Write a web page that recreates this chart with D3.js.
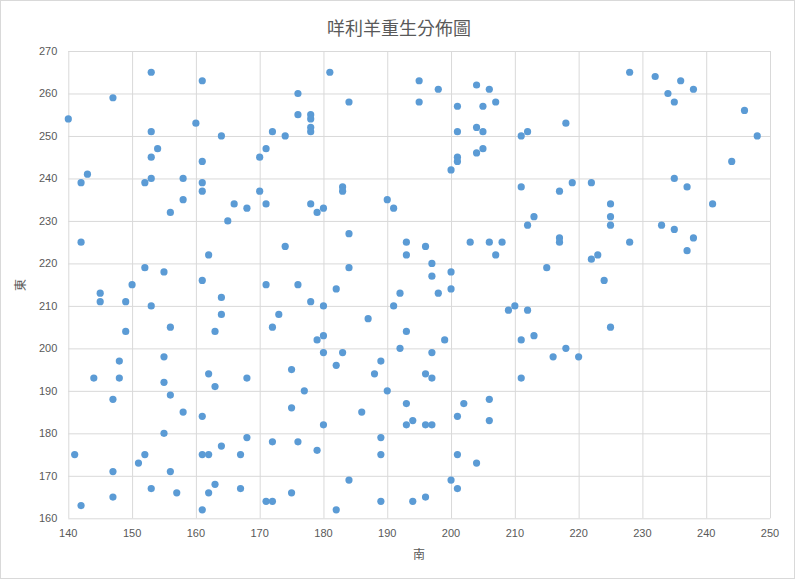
<!DOCTYPE html>
<html>
<head>
<meta charset="utf-8">
<title>咩利羊重生分佈圖</title>
<style>
    body { margin: 0; background: #fff; }
    .grid line { stroke: #d9d9d9; stroke-width: 1; }
    .grid path { display: none; }
    .tick-label { font-family: "Liberation Sans", Arial, sans-serif; font-size: 11px; fill: #595959; }
    .title { font-family: "Noto Sans CJK TC", sans-serif; font-size: 18px; fill: #595959; }
    .axis-title { font-family: "Noto Sans CJK TC", sans-serif; font-size: 12px; fill: #595959; }
</style>
<script src="https://d3js.org/d3.v7.min.js"></script>
</head>
<body>
<div id="chart"></div>
<script>
// 南 (x) values
var south = [
    153,161,147,140,160,153,164,154,153,161,143,142,152,153,158,161,161,158,166,156,165,142,162,152,155,161,150,
    181,176,184,195,195,176,178,178,178,178,172,174,171,170,170,168,171,178,179,180,183,183,190,191,184,174,193,193,184,171,176,
    198,204,206,201,205,207,218,201,204,205,211,212,201,201,200,204,205,211,217,219,222,213,212,217,217,196,203,206,208,207,197,197,200,215,222,
    228,232,236,238,234,235,246,248,244,235,237,241,225,225,225,233,235,238,237,228,223,224,
    145,145,149,153,164,164,149,156,163,155,148,144,148,155,162,163,147,156,158,161,155,141,152,151,147,156,161,162,164,167,153,157,163,162,167,147,142,161,
    182,178,180,192,191,173,172,187,193,180,179,180,183,182,192,189,188,168,175,177,190,193,175,186,180,193,194,168,172,176,179,189,189,184,175,171,172,182,189,194,
    198,200,209,210,212,199,211,213,197,216,218,220,196,197,211,202,206,201,206,196,197,201,204,200,201,196,
    225
];
// 東 (y) values
var east = [
    265,263,259,254,253,251,250,247,245,244,241,239,239,240,240,239,237,235,234,232,230,225,222,219,218,216,215,
    265,260,258,263,258,255,255,254,252,251,251,250,247,245,237,233,234,234,232,233,238,237,235,233,227,224,225,222,219,215,215,
    261,262,261,257,257,258,253,251,252,251,250,251,245,244,242,246,247,238,237,239,239,231,229,226,225,224,225,225,225,222,220,217,218,219,221,
    265,264,263,261,260,258,256,250,244,240,238,234,234,231,229,229,228,226,223,225,222,216,
    213,211,211,210,212,208,204,205,204,198,197,193,193,192,194,191,188,189,185,184,180,175,175,173,171,171,175,175,177,175,167,166,168,166,167,165,163,162,
    214,211,210,213,210,208,205,207,204,203,202,199,199,196,200,197,194,193,195,190,190,187,186,185,182,182,183,179,178,178,176,179,175,169,166,164,164,162,164,164,
    213,214,209,210,209,202,202,203,199,198,200,198,194,193,193,187,188,184,183,182,182,175,173,169,167,165,
    205
];
var xTicks = [140, 150, 160, 170, 180, 190, 200, 210, 220, 230, 240, 250];
var yTicks = [160, 170, 180, 190, 200, 210, 220, 230, 240, 250, 260, 270];
var titleText = "咩利羊重生分佈圖";
var xLabel = "南";
var yLabel = "東";

var W = 795, H = 579;
var plotLeft = 68.3, plotRight = 770, plotTop = 51, plotBottom = 518.3;

var data = south.map(function(s, i) { return { x: s, y: east[i] }; });

var svg = d3.select("#chart").append("svg")
    .attr("width", W)
    .attr("height", H);

svg.append("rect")
    .attr("x", 0.5).attr("y", 0.5)
    .attr("width", W - 1).attr("height", H - 1)
    .attr("fill", "#fff")
    .attr("stroke", "#d9d9d9");

var x = d3.scaleLinear().domain([140, 250]).range([plotLeft, plotRight]);
var y = d3.scaleLinear().domain([160, 270]).range([plotBottom, plotTop]);

// gridlines
svg.append("g")
    .attr("class", "grid")
    .attr("transform", "translate(0," + plotBottom + ")")
    .call(d3.axisBottom(x).tickValues(xTicks).tickSize(-(plotBottom - plotTop)).tickFormat(""));

svg.append("g")
    .attr("class", "grid")
    .attr("transform", "translate(" + plotLeft + ",0)")
    .call(d3.axisLeft(y).tickValues(yTicks).tickSize(-(plotRight - plotLeft)).tickFormat(""));

// tick labels
svg.append("g").selectAll("text")
    .data(xTicks)
    .enter().append("text")
    .attr("class", "tick-label")
    .attr("x", function(d) { return x(d); })
    .attr("y", plotBottom + 19)
    .attr("text-anchor", "middle")
    .text(function(d) { return d; });

svg.append("g").selectAll("text")
    .data(yTicks)
    .enter().append("text")
    .attr("class", "tick-label")
    .attr("x", plotLeft - 11)
    .attr("y", function(d) { return y(d) + 4; })
    .attr("text-anchor", "end")
    .text(function(d) { return d; });

// points
svg.append("g").selectAll("circle")
    .data(data)
    .enter().append("circle")
    .attr("cx", function(d) { return x(d.x); })
    .attr("cy", function(d) { return y(d.y); })
    .attr("r", 3.6)
    .attr("fill", "#5b9bd5");

svg.append("text")
    .attr("class", "title")
    .attr("x", 399)
    .attr("y", 35)
    .attr("text-anchor", "middle")
    .text(titleText);

svg.append("text")
    .attr("class", "axis-title")
    .attr("x", 419)
    .attr("y", 559)
    .attr("text-anchor", "middle")
    .text(xLabel);

svg.append("text")
    .attr("class", "axis-title")
    .attr("transform", "translate(25,285) rotate(-90)")
    .attr("text-anchor", "middle")
    .text(yLabel);
</script>
</body>
</html>
